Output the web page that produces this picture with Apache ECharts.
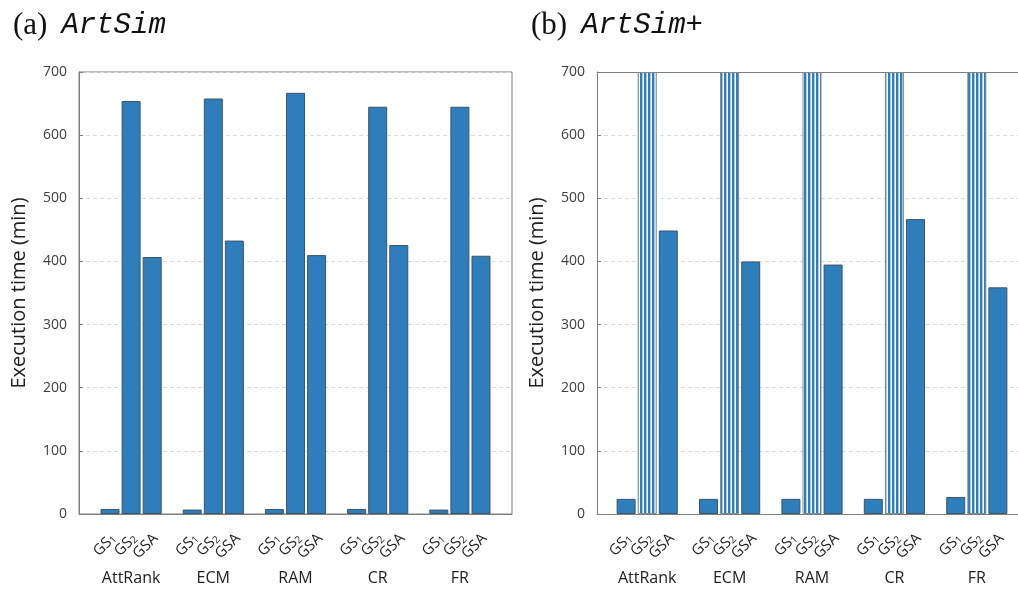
<!DOCTYPE html>
<html>
<head>
<meta charset="utf-8">
<script src="https://cdn.jsdelivr.net/npm/echarts@6/dist/echarts.min.js"></script>
<style>
html,body{margin:0;padding:0;background:#fff;}
#chart{width:1018px;height:599px;}
</style>
</head>
<body>
<div id="chart"></div>
<script>
// ---- data ----
var categories = ['AttRank', 'ECM', 'RAM', 'CR', 'FR'];
var barNames = ['GS1', 'GS2', 'GSA'];
var yTicks = [0, 100, 200, 300, 400, 500, 600, 700];
// (a) ArtSim
var artSimGS1 = [8, 7, 8, 8, 7];
var artSimGS2 = [654, 658, 667, 645, 645];
var artSimGSA = [407, 433, 410, 426, 409];
// (b) ArtSim+  (GS2 runs off the top of the axis)
var artSimPlusGS1 = [24, 24, 24, 24, 27];
var artSimPlusGS2 = [700, 700, 700, 700, 700];
var artSimPlusGSA = [449, 400, 395, 467, 359];

var BLUE = '#2e7ebc';
var EDGE = '#3f5466';
var FRAME = '#7f7f7f';

// stripe pattern for off-scale bars
var pc = document.createElement('canvas');
pc.width = 4; pc.height = 4;
var pctx = pc.getContext('2d');
pctx.fillStyle = '#ffffff'; pctx.fillRect(0, 0, 4, 4);
pctx.fillStyle = BLUE; pctx.fillRect(0, 0, 2, 4);
pctx.fillStyle = '#a8cbe6'; pctx.fillRect(2, 0, 1, 4);

var chart = echarts.init(document.getElementById('chart'), null, {renderer: 'canvas'});

function barLabel(name) {
  var sub = name.slice(2);
  if (sub === 'A') return '{m|GSA}';
  return '{m|GS}{s|' + sub + '}';
}

var labelCfg = function (name) {
  return {
    show: true,
    position: 'bottom',
    distance: 20,
    offset: [1, 4],
    rotate: 45,
    align: 'right',
    verticalAlign: 'middle',
    formatter: function () { return barLabel(name); },
    rich: {
      m: {fontFamily: 'Open Sans', fontSize: 15, color: '#222'},
      s: {fontFamily: 'Open Sans', fontSize: 10, color: '#222', padding: [5, 0, 0, 0]}
    }
  };
};

function yAxisFrame(gi, name) {
  return {
    type: 'value', gridIndex: gi, min: yTicks[0], max: yTicks[yTicks.length - 1], interval: 100,
    name: name, nameLocation: 'middle', nameGap: 50,
    nameTextStyle: {fontFamily: 'Open Sans', fontSize: 20, color: '#222'},
    axisLine: {show: true, lineStyle: {color: FRAME, width: 1}},
    axisTick: {show: true, inside: true, length: 4, lineStyle: {color: FRAME}},
    axisLabel: {fontFamily: 'Open Sans', fontSize: 14, color: '#404040', margin: 12},
    splitLine: {show: true, lineStyle: {color: '#dcdcdc', type: [4, 3], width: 1}}
  };
}
function yAxisBars(gi) {
  return {
    type: 'value', gridIndex: gi, min: 0, max: 700, interval: 100,
    axisLine: {show: false}, axisTick: {show: false}, axisLabel: {show: false}, splitLine: {show: false}
  };
}
function xAxisFrame(gi, pos) {
  return {
    type: 'value', gridIndex: gi, min: 0, max: 1, position: pos,
    axisLine: {show: true, onZero: false, lineStyle: {color: FRAME, width: 1}},
    axisTick: {show: false}, axisLabel: {show: false}, splitLine: {show: false}
  };
}
function xAxisBars(gi) {
  return {
    type: 'category', gridIndex: gi, data: categories,
    axisLine: {show: false}, axisTick: {show: false},
    axisLabel: {fontFamily: 'Open Sans', fontSize: 16, color: '#222', margin: 56}
  };
}

function bars(xi, yi, gs1, gs2, gsa, striped) {
  var base = {type: 'bar', xAxisIndex: xi, yAxisIndex: yi, barWidth: 19, barGap: '11%', animation: false};
  return [
    Object.assign({}, base, {name: barNames[0], data: gs1,
      itemStyle: {color: BLUE, borderColor: EDGE, borderWidth: 1}, label: labelCfg(barNames[0])}),
    Object.assign({}, base, {name: barNames[1], data: gs2,
      itemStyle: striped ? {color: {image: pc, repeat: 'repeat'}, borderColor: '#7d8791', borderWidth: 1}
                         : {color: BLUE, borderColor: EDGE, borderWidth: 1},
      label: labelCfg(barNames[1])}),
    Object.assign({}, base, {name: barNames[2], data: gsa,
      itemStyle: {color: BLUE, borderColor: EDGE, borderWidth: 1}, label: labelCfg(barNames[2])})
  ];
}

var titleRich = {
  p: {fontFamily: 'Liberation Serif', fontSize: 31, fontWeight: 'normal', color: '#111'},
  gap: {fontSize: 16, width: 14},
  t: {fontFamily: 'Liberation Mono', fontStyle: 'italic', fontWeight: 'normal', fontSize: 29, color: '#111'}
};

var option = {
  backgroundColor: '#ffffff',
  animation: false,
  title: [
    {left: 8, top: 5, text: '{p|(a)}{gap| }{t|ArtSim}', textStyle: {fontWeight: 'normal', rich: titleRich}},
    {left: 526, top: 5, text: '{p|(b)}{gap| }{t|ArtSim+}', textStyle: {fontWeight: 'normal', rich: titleRich}}
  ],
  grid: [
    {left: 79, top: 72, width: 433, height: 442, show: true, borderColor: FRAME, borderWidth: 1, backgroundColor: 'transparent'},
    {left: 90, top: 72, width: 411, height: 442},
    {left: 597, top: 72, width: 432, height: 442},
    {left: 606, top: 72, width: 412, height: 442}
  ],
  xAxis: [xAxisFrame(0, 'bottom'), xAxisBars(1), xAxisFrame(2, 'bottom'), xAxisBars(3), xAxisFrame(2, 'top')],
  yAxis: [yAxisFrame(0, 'Execution time (min)'), yAxisBars(1), yAxisFrame(2, 'Execution time (min)'), yAxisBars(3)],
  series: [].concat(
    bars(1, 1, artSimGS1, artSimGS2, artSimGSA, false),
    bars(3, 3, artSimPlusGS1, artSimPlusGS2, artSimPlusGSA, true)
  )
};
chart.setOption(option);
</script>
</body>
</html>
